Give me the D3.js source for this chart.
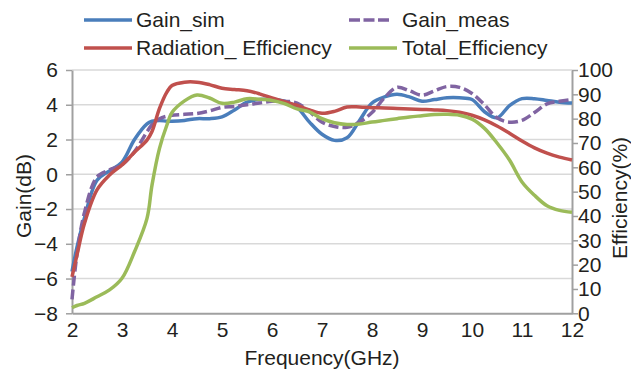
<!DOCTYPE html>
<html>
<head>
<meta charset="utf-8">
<script src="https://cdn.jsdelivr.net/npm/d3@7"></script>
<style>
  html, body { margin: 0; padding: 0; background: #fff; }
  svg { display: block; font-family: "Liberation Sans", Arial, sans-serif; }
</style>
</head>
<body>
<svg id="chart" width="631" height="372"></svg>
<script>
// Frequency samples (GHz)
const freq = [2, 2.1, 2.25, 2.5, 2.75, 3, 3.25, 3.5, 3.6, 3.75, 3.9, 4, 4.25, 4.5, 4.75,
  5, 5.25, 5.5, 5.75, 6, 6.25, 6.5, 6.75, 7, 7.25, 7.5, 7.75, 8, 8.25, 8.5, 8.75,
  9, 9.25, 9.5, 9.75, 10, 10.25, 10.5, 10.75, 11, 11.25, 11.5, 11.75, 12];

// Simulated gain (dB)
const gainSim = [-5.6, -4.2, -2.5, -0.35, 0.2, 0.7, 2.0, 2.9, 3.05, 3.1, 3.05, 3.05, 3.1, 3.2, 3.2,
  3.3, 3.7, 4.15, 4.3, 4.3, 4.2, 3.85, 3.0, 2.3, 1.95, 2.1, 3.1, 4.1, 4.45, 4.6, 4.45,
  4.2, 4.3, 4.4, 4.4, 4.3, 3.6, 3.25, 3.95, 4.35, 4.35, 4.25, 4.15, 4.1];

// Measured gain (dB)
const gainMeas = [-7.2, -4.6, -2.2, -0.15, 0.25, 0.55, 1.3, 2.45, 2.85, 3.2, 3.35, 3.4, 3.45, 3.5, 3.65,
  3.85, 3.9, 4.0, 4.1, 4.2, 4.2, 4.1, 3.6, 3.0, 2.75, 2.7, 3.0, 3.55, 4.4, 5.0, 4.8,
  4.55, 4.8, 5.05, 5.0, 4.65, 4.0, 3.25, 3.0, 3.1, 3.55, 4.05, 4.2, 4.3];

// Radiation efficiency (%)
const radEff = [15, 24, 37, 50.7, 56.8, 61, 66.2, 71.2, 74.7, 84.2, 91, 93.6, 95, 95, 94,
  92.5, 92, 91.5, 90.2, 88.5, 87, 85.5, 83.6, 82.2, 83, 84.8, 84.8, 84.5, 84.4, 84.2, 84,
  83.8, 83.6, 83.3, 82.6, 81.4, 79.5, 77, 74, 70.8, 68, 65.8, 64.2, 63];

// Total efficiency (%)
const totEff = [2.3, 3.2, 4.1, 6.8, 9.6, 14.4, 25.3, 39, 52.7, 67.8, 77.5, 82.5, 87.3, 89.7, 88.5,
  86.3, 86.8, 88.2, 88, 87.5, 86.2, 84, 82.8, 80, 78.3, 77.6, 77.8, 78.6, 79.3, 80, 80.7,
  81.2, 81.7, 81.8, 81.4, 79.8, 76, 70, 63, 54, 48.5, 44.2, 42.3, 41.5];

// Tick values
const freqTicks = [2, 3, 4, 5, 6, 7, 8, 9, 10, 11, 12];
const gainTicks = [-8, -6, -4, -2, 0, 2, 4, 6];
const effTicks = [0, 10, 20, 30, 40, 50, 60, 70, 80, 90, 100];

const seriesNames = ["Gain_sim", "Gain_meas", "Radiation_ Efficiency", "Total_Efficiency"];
const seriesColors = ["#4a7ebb", "#8064a2", "#c0504d", "#9bbb59"];

const svg = d3.select("#chart");
const plotLeft = 72, plotRight = 572, plotTop = 70, plotBottom = 313.3;
const textColor = "#231f20";
const axisColor = "#a0a0a0";
const fontSize = 21;

const x = d3.scaleLinear().domain([2, 12]).range([plotLeft, plotRight]);
const yL = d3.scaleLinear().domain([-8, 6]).range([plotBottom, plotTop]);
const yR = d3.scaleLinear().domain([0, 100]).range([plotBottom, plotTop]);

// Horizontal gridlines at the gain ticks
svg.append("g")
  .selectAll("line")
  .data(gainTicks.filter(d => d !== -8))
  .join("line")
  .attr("x1", plotLeft).attr("x2", plotRight)
  .attr("y1", d => yL(d)).attr("y2", d => yL(d))
  .attr("stroke", "#d9d9d9").attr("stroke-width", 1.5);

function styleAxis(g) {
  g.select(".domain").attr("stroke", axisColor).attr("stroke-width", 2);
  g.selectAll(".tick line").attr("stroke", axisColor).attr("stroke-width", 1.5);
  g.selectAll(".tick text").attr("fill", textColor)
    .attr("font-size", fontSize).attr("font-family", "Liberation Sans, Arial, sans-serif");
}

// Left axis (gain)
svg.append("g")
  .attr("transform", `translate(${plotLeft},0)`)
  .call(d3.axisLeft(yL).tickValues(gainTicks).tickSize(6).tickSizeOuter(0).tickPadding(8)
    .tickFormat(d3.format("d")))
  .call(styleAxis);

// Right axis (efficiency)
svg.append("g")
  .attr("transform", `translate(${plotRight},0)`)
  .call(d3.axisRight(yR).tickValues(effTicks).tickSize(6).tickSizeOuter(0).tickPadding(0)
    .tickFormat(d3.format("d")))
  .call(styleAxis);

// Bottom axis (frequency)
svg.append("g")
  .attr("transform", `translate(0,${plotBottom})`)
  .call(d3.axisBottom(x).tickValues(freqTicks).tickSize(0).tickSizeOuter(0).tickPadding(9)
    .tickFormat(d3.format("d")))
  .call(styleAxis);

// Axis titles
svg.append("text")
  .attr("x", (plotLeft + plotRight) / 2).attr("y", 365)
  .attr("text-anchor", "middle").attr("fill", textColor).attr("font-size", fontSize)
  .text("Frequency(GHz)");

svg.append("text")
  .attr("transform", "translate(31,196) rotate(-90)")
  .attr("text-anchor", "middle").attr("fill", textColor).attr("font-size", fontSize)
  .text("Gain(dB)");

svg.append("text")
  .attr("transform", "translate(627,198) rotate(-90)")
  .attr("text-anchor", "middle").attr("fill", textColor).attr("font-size", fontSize)
  .text("Efficiency(%)");

// Series lines
const plot = svg.append("g");
const curve = d3.curveCatmullRom.alpha(0.5);

function drawSeries(values, yScale, color, dash) {
  const pts = freq.map((f, i) => [f, values[i]]);
  plot.append("path")
    .datum(pts)
    .attr("fill", "none")
    .attr("stroke", color)
    .attr("stroke-width", 3.5)
    .attr("stroke-linejoin", "round")
    .attr("stroke-dasharray", dash || null)
    .attr("d", d3.line().x(d => x(d[0])).y(d => yScale(d[1])).curve(curve));
}

drawSeries(gainSim, yL, seriesColors[0]);
drawSeries(gainMeas, yL, seriesColors[1], "10,4");
drawSeries(radEff, yR, seriesColors[2]);
drawSeries(totEff, yR, seriesColors[3]);

// Legend
const legendItems = [
  { name: seriesNames[0], color: seriesColors[0], lx: 84, len: 48, tx: 136, y: 20 },
  { name: seriesNames[1], color: seriesColors[1], lx: 349, len: 41, tx: 402, y: 20, dash: "11,3.5" },
  { name: seriesNames[2], color: seriesColors[2], lx: 84, len: 48, tx: 136, y: 48 },
  { name: seriesNames[3], color: seriesColors[3], lx: 349, len: 48, tx: 402, y: 48 }
];
const legend = svg.append("g");
legendItems.forEach(it => {
  legend.append("line")
    .attr("x1", it.lx).attr("x2", it.lx + it.len)
    .attr("y1", it.y).attr("y2", it.y)
    .attr("stroke", it.color).attr("stroke-width", 3.5)
    .attr("stroke-dasharray", it.dash || null);
  legend.append("text")
    .attr("x", it.tx).attr("y", it.y + 7)
    .attr("fill", textColor).attr("font-size", fontSize)
    .text(it.name);
});
</script>
</body>
</html>
